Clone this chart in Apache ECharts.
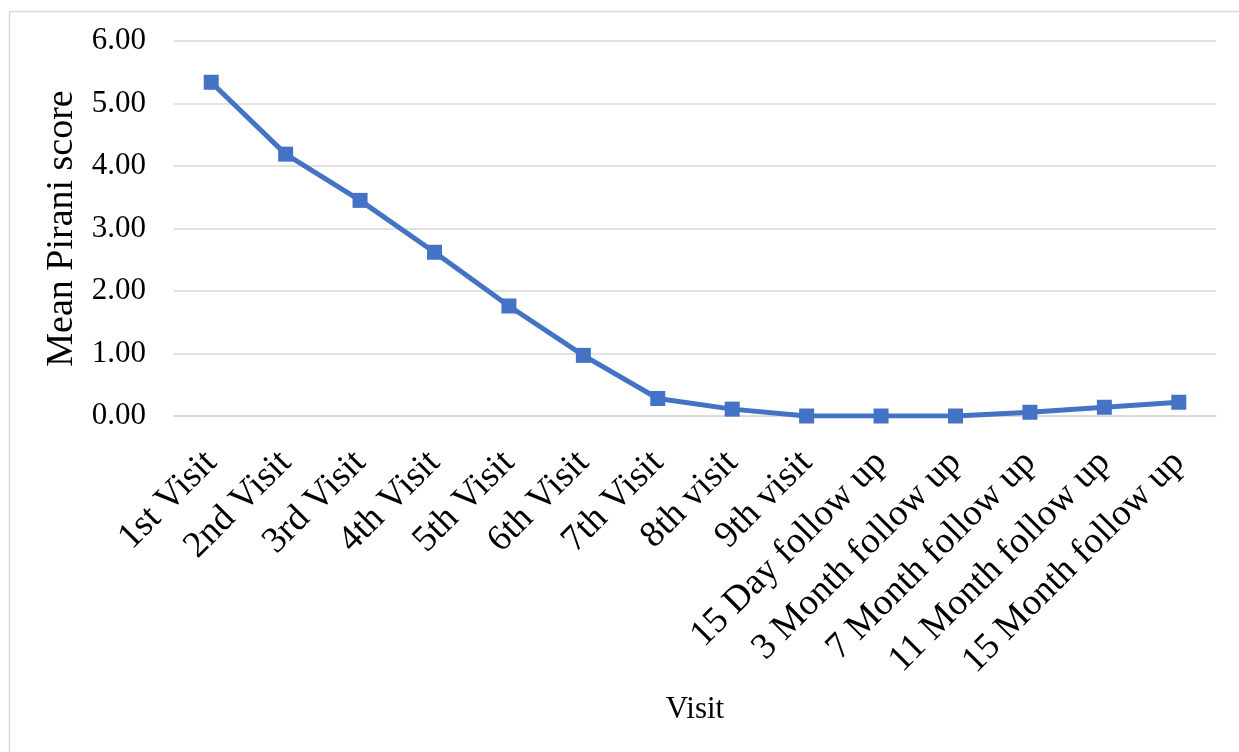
<!DOCTYPE html>
<html>
<head>
<meta charset="utf-8">
<script src="https://cdn.jsdelivr.net/npm/echarts@6/dist/echarts.min.js"></script>
<style>
  html, body { margin: 0; padding: 0; background: #fff; }
  #chart { width: 1239px; height: 752px; }
</style>
</head>
<body>
<div id="chart"></div>
<script>
// Visits along the horizontal axis
const visits = [
  '1st Visit', '2nd Visit', '3rd Visit', '4th Visit', '5th Visit', '6th Visit',
  '7th Visit', '8th visit', '9th visit', '15 Day follow up', '3 Month follow up',
  '7 Month follow up', '11 Month follow up', '15 Month follow up'
];
// Mean Pirani score at each visit
const meanPirani = [5.34, 4.19, 3.45, 2.62, 1.76, 0.97, 0.28, 0.11, 0, 0, 0, 0.06, 0.14, 0.22];

const serif = "'Liberation Serif', 'Times New Roman', serif";
const blue = '#4472C4';

const chart = echarts.init(document.getElementById('chart'), null, { renderer: 'canvas' });
chart.setOption({
  backgroundColor: '#ffffff',
  animation: false,
  graphic: [{
    type: 'rect',
    left: 7, top: 9,
    shape: { width: 1260, height: 780 },
    style: { fill: 'none', stroke: '#d9d9d9', lineWidth: 1.5 },
    silent: true
  }],
  grid: { left: 174, right: 23, top: 41, bottom: 336, containLabel: false },
  xAxis: {
    type: 'category',
    data: visits,
    boundaryGap: true,
    name: 'Visit',
    nameLocation: 'middle',
    nameGap: 278,
    nameTextStyle: { fontFamily: serif, fontSize: 31, color: '#000' },
    axisLine: { show: true, lineStyle: { color: '#d9d9d9', width: 1.5 } },
    axisTick: { show: false },
    axisLabel: {
      interval: 0,
      rotate: 45,
      margin: 41,
      fontFamily: serif,
      fontSize: 37,
      color: '#000'
    }
  },
  yAxis: {
    type: 'value',
    min: 0,
    max: 6,
    interval: 1,
    name: 'Mean Pirani score',
    nameLocation: 'middle',
    nameRotate: 90,
    nameGap: 92,
    nameTextStyle: { fontFamily: serif, fontSize: 38, color: '#000' },
    axisLine: { show: false },
    axisTick: { show: false },
    splitLine: { lineStyle: { color: '#d9d9d9', width: 1.5 } },
    axisLabel: {
      margin: 28,
      fontFamily: serif,
      fontSize: 31,
      color: '#000',
      formatter: v => v.toFixed(2)
    }
  },
  series: [{
    type: 'line',
    data: meanPirani,
    symbol: 'rect',
    symbolSize: 15,
    itemStyle: { color: blue },
    lineStyle: { color: blue, width: 5 },
    z: 3
  }]
});
</script>
</body>
</html>
